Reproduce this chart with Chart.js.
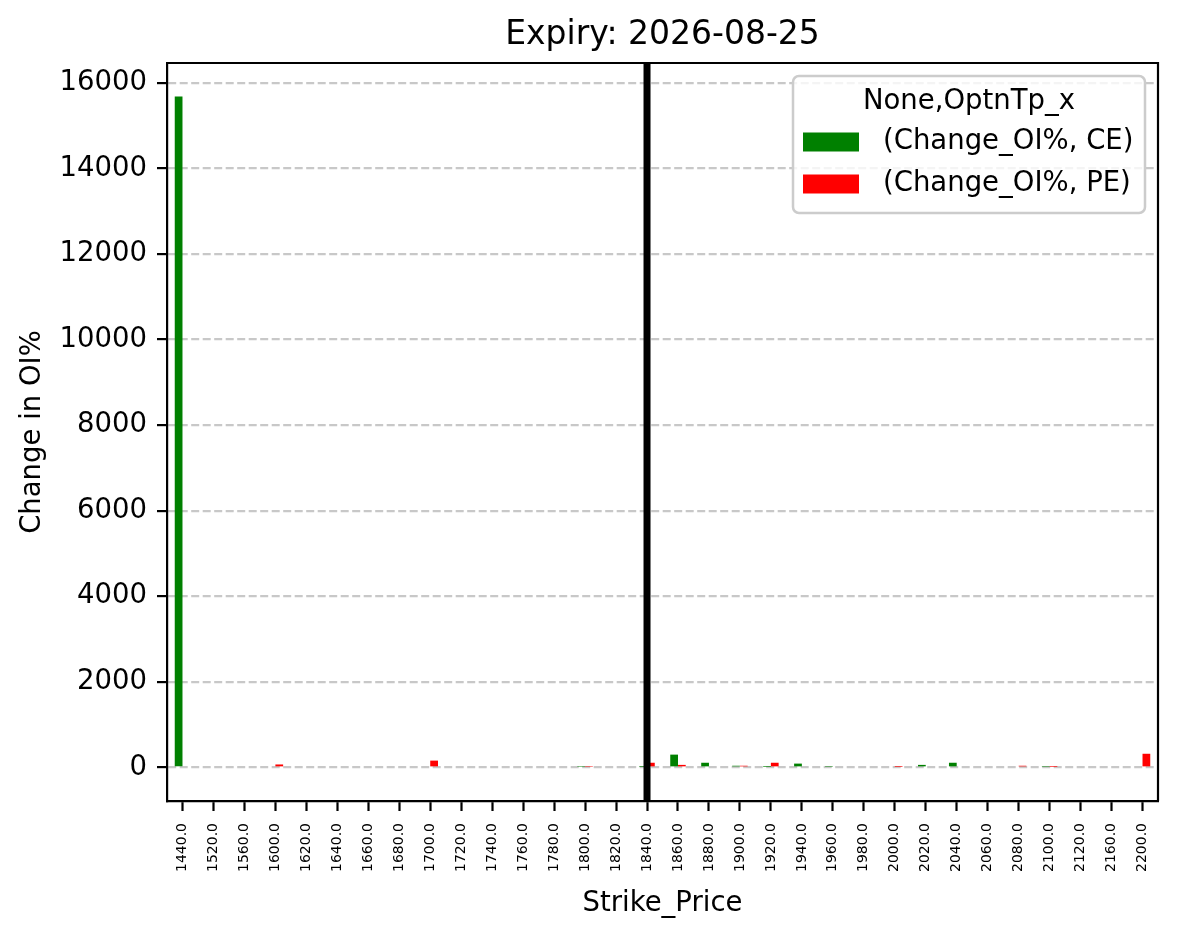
<!DOCTYPE html>
<html>
<head>
<meta charset="utf-8">
<script src="https://cdn.jsdelivr.net/npm/chart.js@4/dist/chart.umd.min.js"></script>
<style>
  html, body { margin: 0; padding: 0; background: #fff; }
</style>
</head>
<body>
<canvas id="oiChart" width="1179" height="939"></canvas>
<script>
// strikes and change in OI% per option type
const strikes = [1440, 1520, 1560, 1600, 1620, 1640, 1660, 1680, 1700, 1720, 1740, 1760, 1780, 1800, 1820, 1840,
                 1860, 1880, 1900, 1920, 1940, 1960, 1980, 2000, 2020, 2040, 2060, 2080, 2100, 2120, 2160, 2200];
const ceChange = [15680, 0, 0, 0, 0, 0, 0, 0, 0, 0, 0, 0, 0, 15, 0, 10,
                  300, 110, 40, 10, 90, 15, 0, 0, 60, 110, 0, 0, 15, 0, 0, 0];
const peChange = [0, 0, 0, 70, 0, 0, 0, 0, 160, 0, 0, 0, 0, 15, 0, 110,
                  60, 0, 40, 110, 0, 0, 0, 10, 0, 0, 0, 40, 10, 0, 0, 320];
const yTicks = [0, 2000, 4000, 6000, 8000, 10000, 12000, 14000, 16000];
const spotStrike = 1840;
const expiry = "2026-08-25";

Chart.defaults.font.family = "'DejaVu Sans', sans-serif";
Chart.defaults.color = "#000";

// title over the plot, frame, spot line and matplotlib-style legend
const extras = {
  id: "extras",
  afterDatasetsDraw(chart) {
    const { ctx, chartArea: a, scales: { x } } = chart;
    const sx = x.getPixelForValue(strikes.indexOf(spotStrike));
    ctx.save();
    ctx.strokeStyle = "#000";
    ctx.lineWidth = 7;
    ctx.beginPath();
    ctx.moveTo(sx, a.top);
    ctx.lineTo(sx, a.bottom);
    ctx.stroke();
    ctx.restore();
  },
  afterDraw(chart) {
    const { ctx, chartArea: a } = chart;
    ctx.save();
    ctx.strokeStyle = "#000";
    ctx.lineWidth = 2.2;
    ctx.beginPath();
    ctx.moveTo(a.left, a.top);
    ctx.lineTo(a.right, a.top);
    ctx.lineTo(a.right, a.bottom);
    ctx.stroke();

    ctx.fillStyle = "#000";
    ctx.font = "33px 'DejaVu Sans'";
    ctx.textAlign = "center";
    ctx.textBaseline = "middle";
    ctx.fillText("Expiry: " + expiry, (a.left + a.right) / 2, 35);

    // legend
    const w = 352, h = 137;
    const lx = a.right - 13 - w, ly = a.top + 13;
    ctx.beginPath();
    ctx.roundRect(lx, ly, w, h, 6);
    ctx.fillStyle = "rgba(255,255,255,0.8)";
    ctx.fill();
    ctx.strokeStyle = "#cccccc";
    ctx.lineWidth = 2.5;
    ctx.stroke();

    ctx.font = "27.5px 'DejaVu Sans'";
    ctx.fillStyle = "#000";
    ctx.textAlign = "center";
    ctx.fillText("None,OptnTp_x", lx + w / 2, ly + 26);
    const items = [["green", "(Change_OI%, CE)"], ["red", "(Change_OI%, PE)"]];
    items.forEach(([c, t], i) => {
      const cy = ly + 66 + i * 42;
      ctx.fillStyle = c;
      ctx.fillRect(lx + 10, cy - 9.5, 56, 19);
      ctx.fillStyle = "#000";
      ctx.textAlign = "left";
      ctx.fillText(t, lx + 90, cy);
    });
    ctx.restore();
  }
};

new Chart(document.getElementById("oiChart"), {
  type: "bar",
  data: {
    labels: strikes,
    datasets: [
      { label: "(Change_OI%, CE)", data: ceChange, backgroundColor: "green", borderWidth: 0 },
      { label: "(Change_OI%, PE)", data: peChange, backgroundColor: "red", borderWidth: 0 }
    ]
  },
  options: {
    responsive: false,
    animation: false,
    devicePixelRatio: 1,
    categoryPercentage: 0.5,
    barPercentage: 1.0,
    layout: { padding: { left: 0, right: 21, top: 63, bottom: 0 } },
    plugins: {
      legend: { display: false },
      tooltip: { enabled: false },
      title: { display: false }
    },
    scales: {
      x: {
        afterFit: s => { s.height = 138; },
        grid: { offset: false, drawOnChartArea: false, drawTicks: true, tickLength: 10, tickColor: "#000", tickWidth: 2.2 },
        border: { display: true, color: "#000", width: 2.2 },
        ticks: {
          autoSkip: false, minRotation: 90, maxRotation: 90, padding: 12,
          font: { size: 14 }, color: "#000",
          callback: (v, i) => strikes[i].toFixed(1)
        },
        title: { display: true, text: "Strike_Price", font: { size: 27.5 }, color: "#000", padding: { top: 0, bottom: 19 } }
      },
      y: {
        min: -784,
        max: 16464,
        afterBuildTicks: s => { s.ticks = yTicks.map(v => ({ value: v })); },
        afterFit: s => { s.width = 167; },
        grid: { color: "#c8c8c8", lineWidth: 2.2, tickLength: 10, tickColor: "#000", tickWidth: 2.2, tickBorderDash: [] },
        border: { display: true, color: "#000", width: 2.2, dash: [8, 3.5] },
        ticks: { padding: 10, font: { size: 27.5 }, color: "#000", callback: v => String(v) },
        title: { display: true, text: "Change in OI%", font: { size: 27.5 }, color: "#000", padding: { top: 16, bottom: 0 } }
      }
    }
  },
  plugins: [extras]
});
</script>
</body>
</html>
